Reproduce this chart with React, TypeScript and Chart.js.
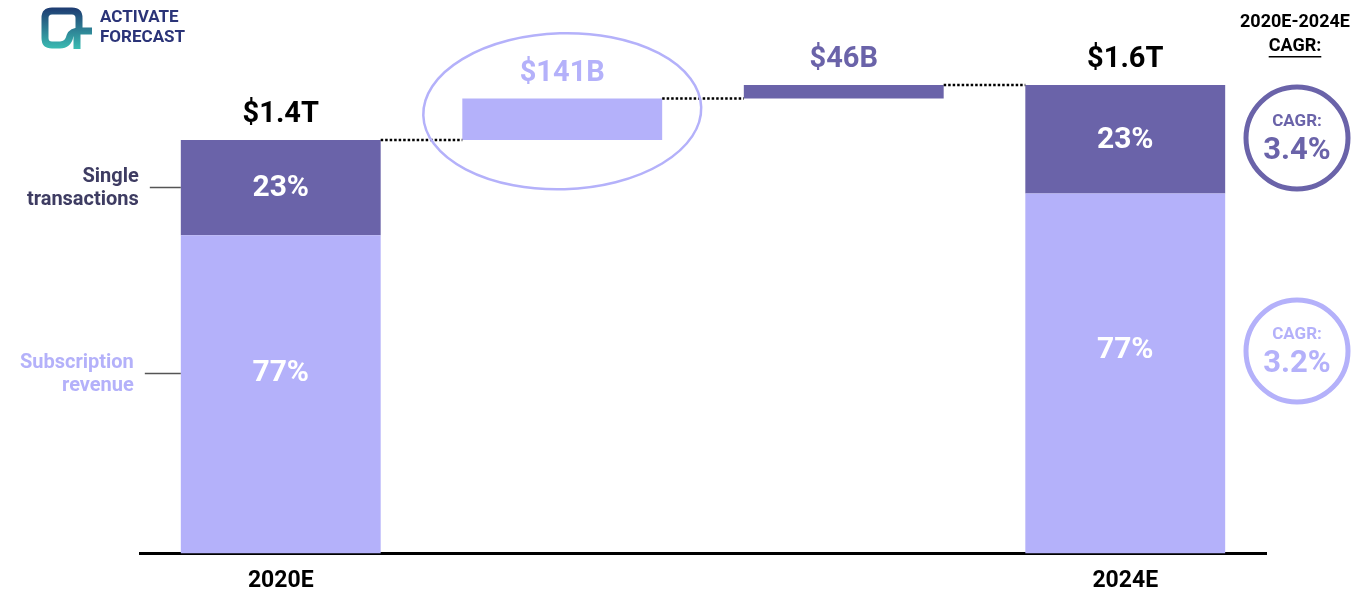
import React, { useEffect, useRef } from "react";
import { Chart, registerables } from "chart.js";
Chart.register(...registerables);

// ---- data (billions USD) ----
const categories = ["2020E", "", "", "2024E"];
const subscriptionRevenue = [1078, null, null, 1219];
const singleTransactions = [322, null, null, 368];
const growthSubscription = [null, 141, null, null];
const growthSingle = [null, null, 46, null];
const valueLabels = ["$1.4T", "$141B", "$46B", "$1.6T"];
const seriesNames = ["Single transactions", "Subscription revenue"];
const cagrLabels = ["3.4%", "3.2%"];
const cagrTitle = ["2020E-2024E", "CAGR:"];

const DARK = "#6A63A9";
const LIGHT = "#B4B1FA";
const FONT = "Roboto, 'Liberation Sans', sans-serif";

// build floating bars for waterfall
const subBars = subscriptionRevenue.map((v) => (v == null ? null : [0, v]));
const singleBars = singleTransactions.map((v, i) =>
  v == null ? null : [subscriptionRevenue[i] as number, (subscriptionRevenue[i] as number) + v]
);
const startTotal = (subscriptionRevenue[0] as number) + (singleTransactions[0] as number);
const subGrowthBars = growthSubscription.map((v) => (v == null ? null : [startTotal, startTotal + v]));
const afterSub = startTotal + (growthSubscription[1] as number);
const singleGrowthBars = growthSingle.map((v) => (v == null ? null : [afterSub, afterSub + v]));

function drawLogo(ctx: CanvasRenderingContext2D) {
  ctx.save();
  const g = ctx.createLinearGradient(0, 8, 0, 50);
  g.addColorStop(0, "#1e3c72");
  g.addColorStop(1, "#3cc0b4");
  ctx.strokeStyle = g;
  ctx.lineWidth = 7;
  ctx.lineJoin = "round";
  ctx.lineCap = "butt";
  ctx.beginPath();
  ctx.moveTo(60, 45);
  ctx.lineTo(52, 45);
  ctx.quadraticCurveTo(45, 45, 45, 38);
  ctx.lineTo(45, 18);
  ctx.quadraticCurveTo(45, 11, 52, 11);
  ctx.lineTo(72, 11);
  ctx.quadraticCurveTo(79, 11, 79, 18);
  ctx.lineTo(79, 33);
  ctx.stroke();
  ctx.beginPath();
  ctx.moveTo(60, 45);
  ctx.quadraticCurveTo(68, 45, 70, 36);
  ctx.quadraticCurveTo(72, 31, 80, 31);
  ctx.lineTo(92, 31);
  ctx.stroke();
  ctx.beginPath();
  ctx.moveTo(77, 33);
  ctx.lineTo(77, 49);
  ctx.stroke();
  ctx.fillStyle = "#2b3478";
  ctx.font = `bold 17px ${FONT}`;
  ctx.textAlign = "left";
  ctx.textBaseline = "middle";
  ctx.fillText("ACTIVATE", 100, 18);
  ctx.fillText("FORECAST", 100, 38);
  ctx.restore();
}

const overlay = {
  id: "overlay",
  afterDatasetsDraw(chart: any) {
    const ctx: CanvasRenderingContext2D = chart.ctx;
    const el = (ds: number, i: number) =>
      chart.getDatasetMeta(ds).data[i].getProps(["x", "y", "base", "width"], true);
    ctx.save();

    const b0s = el(0, 0), b0t = el(1, 0), b1 = el(2, 1), b2 = el(3, 2), b3s = el(0, 3), b3t = el(1, 3);

    // percentage labels
    ctx.fillStyle = "#ffffff";
    ctx.font = `bold 30px ${FONT}`;
    ctx.textAlign = "center";
    ctx.textBaseline = "middle";
    const subY: number[] = [];
    [[b0s, b0t, 0], [b3s, b3t, 3]].forEach(([s, t, i]: any) => {
      const total = (subscriptionRevenue[i] as number) + (singleTransactions[i] as number);
      const pSingle = Math.round(((singleTransactions[i] as number) / total) * 100);
      const pSub = 100 - pSingle;
      ctx.fillText(`${pSingle}%`, t.x, (t.y + t.base) / 2 + 1);
      const sy = s.base - (s.base - s.y) * 0.565;
      subY.push(sy);
      ctx.fillText(`${pSub}%`, s.x, sy);
    });

    // value labels
    ctx.font = `bold 29px ${FONT}`;
    const tops = [
      [b0t, "#000000"],
      [b1, LIGHT],
      [b2, DARK],
      [b3t, "#000000"],
    ];
    tops.forEach(([b, c]: any, i) => {
      ctx.fillStyle = c;
      ctx.fillText(valueLabels[i], b.x, Math.min(b.y, b.base) - 25);
    });

    // dotted connectors
    ctx.strokeStyle = "#000";
    ctx.lineWidth = 2.5;
    ctx.setLineDash([2.5, 2]);
    const conn = (a: any, b: any, y: number) => {
      ctx.beginPath();
      ctx.moveTo(a.x + a.width / 2, y);
      ctx.lineTo(b.x - b.width / 2, y);
      ctx.stroke();
    };
    conn(b0t, b1, b0t.y);
    conn(b1, b2, b1.y);
    conn(b2, b3t, b2.y);
    ctx.setLineDash([]);

    // ellipse around growth bar
    ctx.strokeStyle = LIGHT;
    ctx.lineWidth = 2.5;
    ctx.beginPath();
    ctx.ellipse(b1.x, (b1.y + b1.base) / 2 - 8, 139, 78, -0.03, 0, Math.PI * 2);
    ctx.stroke();

    // left series labels
    const left = b0t.x - b0t.width / 2;
    ctx.font = `bold 20px ${FONT}`;
    ctx.textAlign = "right";
    const singleY = (b0t.y + b0t.base) / 2;
    const [sw1, sw2] = seriesNames[0].split(" ");
    ctx.fillStyle = "#3e3c62";
    ctx.fillText(sw1, left - 42, singleY - 11);
    ctx.fillText(sw2, left - 42, singleY + 12);
    const [uw1, uw2] = seriesNames[1].split(" ");
    ctx.fillStyle = LIGHT;
    ctx.fillText(uw1, left - 47, subY[0] - 11);
    ctx.fillText(uw2, left - 47, subY[0] + 12);
    ctx.strokeStyle = "#555";
    ctx.lineWidth = 1.5;
    ctx.beginPath();
    ctx.moveTo(left - 31, singleY);
    ctx.lineTo(left, singleY);
    ctx.moveTo(left - 36, subY[0]);
    ctx.lineTo(left, subY[0]);
    ctx.stroke();

    // CAGR column
    ctx.textAlign = "center";
    ctx.fillStyle = "#000";
    ctx.font = `bold 18px ${FONT}`;
    ctx.fillText(cagrTitle[0], 1295, 22);
    ctx.fillText(cagrTitle[1], 1295, 46);
    const tw = ctx.measureText(cagrTitle[1]).width;
    ctx.fillRect(1295 - tw / 2, 56, tw, 1.5);

    const circles = [
      [1297, 138, DARK, cagrLabels[0]],
      [1297, 351, LIGHT, cagrLabels[1]],
    ];
    circles.forEach(([cx, cy, col, lab]: any) => {
      ctx.strokeStyle = col;
      ctx.lineWidth = 5;
      ctx.beginPath();
      ctx.arc(cx, cy, 51, 0, Math.PI * 2);
      ctx.stroke();
      ctx.fillStyle = col;
      ctx.font = `bold 17px ${FONT}`;
      ctx.fillText("CAGR:", cx, cy - 16);
      ctx.font = `bold 31px ${FONT}`;
      ctx.fillText(lab, cx, cy + 13);
    });

    drawLogo(ctx);
    ctx.restore();
  },
};

export default function App() {
  const ref = useRef<HTMLCanvasElement>(null);
  useEffect(() => {
    if (!ref.current) return;
    const chart = new Chart(ref.current, {
      type: "bar",
      data: {
        labels: categories,
        datasets: [
          { label: "Subscription revenue", data: subBars as any, backgroundColor: LIGHT, grouped: false },
          { label: "Single transactions", data: singleBars as any, backgroundColor: DARK, grouped: false },
          { label: "Subscription growth", data: subGrowthBars as any, backgroundColor: LIGHT, grouped: false },
          { label: "Single growth", data: singleGrowthBars as any, backgroundColor: DARK, grouped: false },
        ],
      },
      options: {
        responsive: false,
        animation: false,
        devicePixelRatio: 1,
        layout: { padding: { left: 140, right: 93, top: 22, bottom: 0 } },
        datasets: { bar: { barPercentage: 0.71, categoryPercentage: 1 } },
        plugins: { legend: { display: false }, tooltip: { enabled: false } },
        scales: {
          x: {
            grid: { display: false, drawTicks: false },
            border: { display: true, color: "#000", width: 3 },
            ticks: { color: "#000", font: { family: FONT, size: 23, weight: "bold" }, padding: 14 },
          },
          y: { display: false, min: 0, max: 1800 },
        },
      },
      plugins: [overlay],
    });
    return () => chart.destroy();
  }, []);
  return (
    <div
      style={{
        position: "fixed",
        left: 0,
        top: 0,
        width: 1359,
        height: 596,
        overflow: "hidden",
        background: "#fff",
      }}
    >
      <canvas ref={ref} width={1359} height={609} style={{ display: "block" }} />
    </div>
  );
}
